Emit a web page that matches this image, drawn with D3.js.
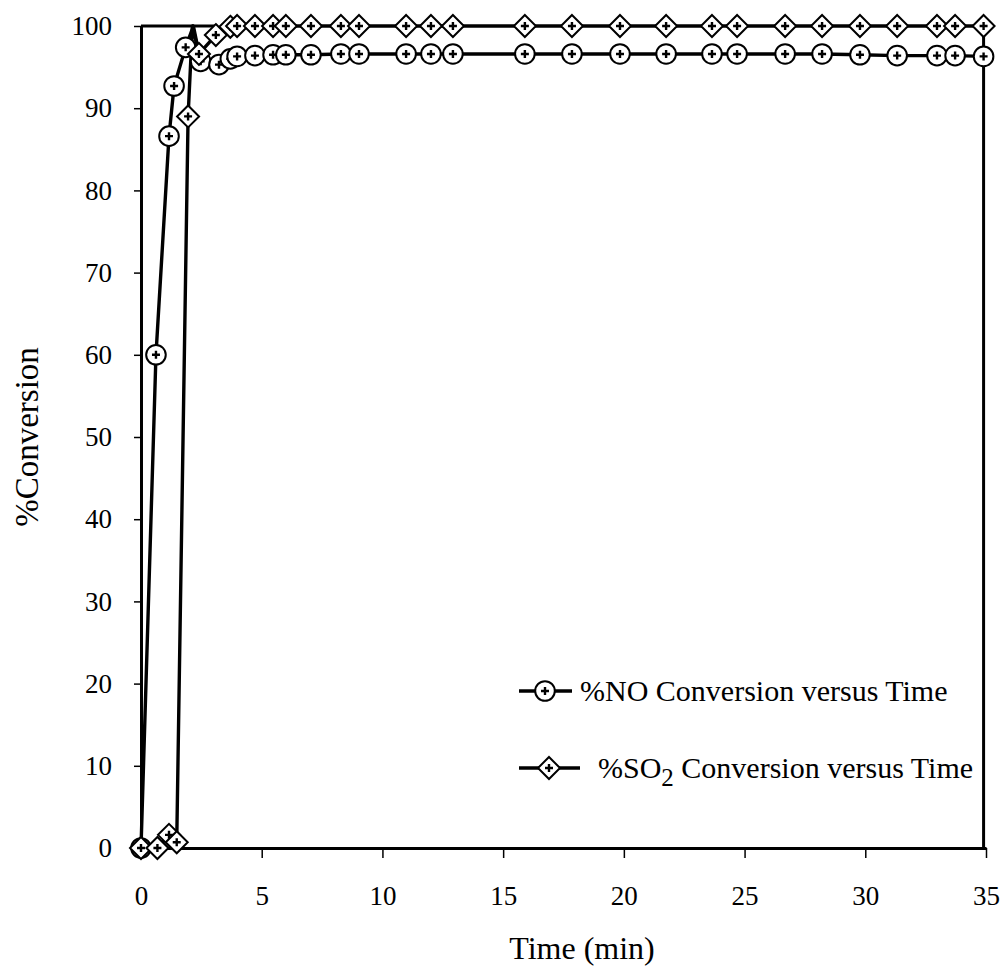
<!DOCTYPE html>
<html><head><meta charset="utf-8">
<script src="https://cdn.jsdelivr.net/npm/d3@7"></script>
<style>
body{margin:0;background:#fff}
svg{display:block}
text{font-family:"Liberation Serif","Times New Roman",serif;fill:#000}
</style>
</head><body>
<svg id="chart" width="1007" height="975"></svg>
<script>
// ---- data ----
const xTicks = [0, 5, 10, 15, 20, 25, 30, 35];
const yTicks = [0, 10, 20, 30, 40, 50, 60, 70, 80, 90, 100];

const noTime  = [0, 0.62, 1.16, 1.37, 1.85, 2.47, 3.23, 3.7, 3.98, 4.72, 5.47, 6.0, 7.04, 8.28, 9.03, 10.98, 12.01, 12.92, 15.9, 17.85, 19.84, 21.75, 23.65, 24.69, 26.68, 28.21, 29.78, 31.32, 32.97, 33.72, 34.9];
const noValue = [0, 60, 86.6, 92.7, 97.4, 95.7, 95.3, 96.0, 96.3, 96.4, 96.5, 96.5, 96.5, 96.6, 96.6, 96.6, 96.6, 96.6, 96.6, 96.6, 96.6, 96.6, 96.6, 96.6, 96.6, 96.6, 96.5, 96.4, 96.4, 96.4, 96.3];

const so2Time  = [0, 0.68, 1.16, 1.48, 1.95, 2.4, 3.1, 3.7, 3.98, 4.72, 5.47, 6.0, 7.04, 8.28, 9.03, 10.98, 12.01, 12.92, 15.9, 17.85, 19.84, 21.75, 23.65, 24.69, 26.68, 28.21, 29.78, 31.32, 32.97, 33.72, 34.9];
const so2Value = [0, 0, 1.6, 0.7, 89, 96.6, 98.9, 99.9, 100, 100, 100, 100, 100, 100, 100, 100, 100, 100, 100, 100, 100, 100, 100, 100, 100, 100, 100, 100, 100, 100, 100];

// line-only vertices where the curves hit the top of the plot (no marker)
const noPeak  = [2.17, 100];
const so2Peak = [2.13, 100];
// edge segments drawn along the plot border
const topEdge   = [[0, 100], [3.1, 100]];
const rightEdge = [[34.9, 100], [34.9, 0]];

const legendLabels = ["%NO Conversion versus Time", "%SO", "2", " Conversion versus Time"];

// ---- drawing ----
const svg = d3.select("#chart");
const x = d3.scaleLinear().domain([0, 35]).range([141, 986]);
const y = d3.scaleLinear().domain([0, 100]).range([848, 26]);

svg.append("defs").append("clipPath").attr("id", "plotclip")
  .append("rect").attr("x", 120).attr("y", 24).attr("width", 880).attr("height", 826);

// axes
const yAxis = svg.append("g").attr("transform", `translate(${x(0)},0)`)
  .call(d3.axisLeft(y).tickValues(yTicks).tickSize(7).tickSizeOuter(0).tickPadding(22).tickFormat(d3.format("d")));
const xAxis = svg.append("g").attr("transform", `translate(0,${y(0)})`)
  .call(d3.axisBottom(x).tickValues(xTicks).tickSize(10).tickSizeOuter(0).tickPadding(28).tickFormat(d3.format("d")));
[yAxis, xAxis].forEach(g => {
  g.select(".domain").attr("stroke", "#000").attr("stroke-width", 3);
  g.selectAll(".tick line").attr("stroke", "#000").attr("stroke-width", 1.5);
  g.selectAll(".tick text").attr("font-size", 27).attr("font-family", "Liberation Serif").attr("fill", "#000");
});

// border edge segments
const edge = d3.line().x(d => x(d[0])).y(d => y(d[1]));
[topEdge, rightEdge].forEach(seg => {
  svg.append("path").attr("d", edge(seg)).attr("fill", "none").attr("stroke", "#000").attr("stroke-width", 3);
});

function seriesPoints(t, v, peak) {
  const pts = t.map((tt, i) => [tt, v[i]]);
  pts.push(peak);
  return pts.sort((a, b) => a[0] - b[0]);
}
const curve = d3.line().x(d => x(d[0])).y(d => y(d[1])).curve(d3.curveLinear);

const linesG = svg.append("g").attr("clip-path", "url(#plotclip)");
linesG.append("path").attr("d", curve(seriesPoints(noTime, noValue, noPeak)))
  .attr("fill", "none").attr("stroke", "#000").attr("stroke-width", 3.4).attr("stroke-linejoin", "round");
linesG.append("path").attr("d", curve(seriesPoints(so2Time, so2Value, so2Peak)))
  .attr("fill", "none").attr("stroke", "#000").attr("stroke-width", 3.4).attr("stroke-linejoin", "round");

function circleMarker(g, cx, cy) {
  g.append("circle").attr("cx", cx).attr("cy", cy).attr("r", 9.8)
    .attr("fill", "#fff").attr("stroke", "#000").attr("stroke-width", 2);
  plus(g, cx, cy);
}
function diamondMarker(g, cx, cy) {
  const r = 11;
  g.append("path").attr("d", `M${cx},${cy - r}L${cx + r},${cy}L${cx},${cy + r}L${cx - r},${cy}Z`)
    .attr("fill", "#fff").attr("stroke", "#000").attr("stroke-width", 2);
  plus(g, cx, cy);
}
function plus(g, cx, cy) {
  g.append("path").attr("d", `M${cx - 4},${cy}H${cx + 4}M${cx},${cy - 4}V${cy + 4}`)
    .attr("stroke", "#000").attr("stroke-width", 2.4);
}

const mG = svg.append("g");
noTime.forEach((t, i) => circleMarker(mG, x(t), y(noValue[i])));
so2Time.forEach((t, i) => diamondMarker(mG, x(t), y(so2Value[i])));

// axis titles
svg.append("text").attr("x", 582).attr("y", 959).attr("text-anchor", "middle")
  .attr("font-size", 32).text("Time (min)");
svg.append("text").attr("transform", "translate(38,437) rotate(-90)").attr("text-anchor", "middle")
  .attr("font-size", 33).text("%Conversion");

// legend
const lg = svg.append("g");
const row1 = 691, row2 = 768;
lg.append("line").attr("x1", 519).attr("x2", 572).attr("y1", row1).attr("y2", row1).attr("stroke", "#000").attr("stroke-width", 3.4);
circleMarker(lg, 545, row1);
lg.append("text").attr("x", 580).attr("y", row1 + 10).attr("font-size", 30).text(legendLabels[0]);

lg.append("line").attr("x1", 519).attr("x2", 580).attr("y1", row2).attr("y2", row2).attr("stroke", "#000").attr("stroke-width", 3.4);
diamondMarker(lg, 549, row2);
const t2 = lg.append("text").attr("x", 598).attr("y", row2 + 10).attr("font-size", 30);
t2.append("tspan").text(legendLabels[1]);
t2.append("tspan").attr("dy", 8).attr("font-size", 25).text(legendLabels[2]);
t2.append("tspan").attr("dy", -8).text(legendLabels[3]);
</script>
</body></html>
